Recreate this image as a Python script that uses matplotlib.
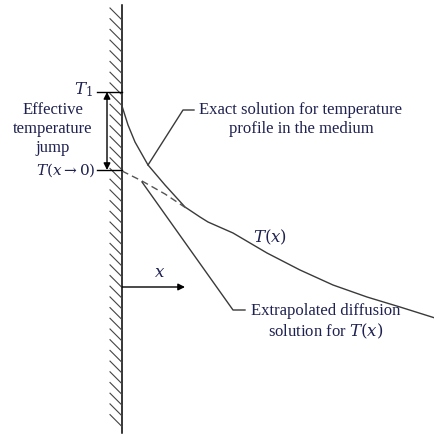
import numpy as np
import matplotlib.pyplot as plt

# exact temperature profile (pixel coords)
exact_x = [122, 128, 135, 148, 165, 185, 200, 208, 233, 267, 300, 333, 367, 400, 435]
exact_y = [106, 125, 142, 165, 185, 207, 217, 222, 233, 253, 270, 285, 297, 307, 318]

# extrapolated diffusion solution (dashed)
extrap_x = [122, 142, 165, 186]
extrap_y = [171, 181, 194, 208]

wall_x = 122
wall_top, wall_bottom = 5, 433
T1_y = 92
T0_y = 170

ink = '#1f2250'
line_c = '#3a3a3a'
serif = ['Liberation Serif', 'DejaVu Serif']

fig = plt.figure(figsize=(4.35, 4.36), dpi=100)
ax = fig.add_axes([0, 0, 1, 1])
ax.set_xlim(0, 435)
ax.set_ylim(436, 0)
ax.axis('off')

# wall + hatching
ax.plot([wall_x, wall_x], [wall_top, wall_bottom], color='black', lw=1.1)
for y0 in np.arange(8, 422, 10.7):
    ax.plot([wall_x - 12, wall_x], [y0, y0 + 12], color='#444444', lw=0.8)

# curves
ax.plot(exact_x, exact_y, color=line_c, lw=1.0)
ax.plot(extrap_x, extrap_y, color='#555555', lw=1.0, ls=(0, (5, 3)))

# temperature level markers
ax.plot([97, wall_x], [T1_y, T1_y], color='black', lw=1.0)
ax.plot([97, wall_x], [T0_y, T0_y], color='black', lw=1.0)
ax.annotate('', xy=(107, T1_y), xytext=(107, T0_y),
            arrowprops=dict(arrowstyle='<|-|>', color='black', lw=1.0,
                            mutation_scale=10, shrinkA=0, shrinkB=0))

fs = 12
ax.text(93, T1_y - 2, r'$T_1$', ha='right', va='center', fontsize=fs, color=ink,
        math_fontfamily='dejavuserif')
ax.text(96, T0_y, r'$T(x\rightarrow0)$', ha='right', va='center', fontsize=fs - 1,
        color=ink, math_fontfamily='dejavuserif')
ax.text(53, 129, 'Effective\ntemperature\njump', ha='center', va='center',
        fontsize=fs, color=ink, family=serif, linespacing=1.25)

# x axis arrow
ax.annotate('', xy=(185, 287), xytext=(wall_x, 287),
            arrowprops=dict(arrowstyle='-|>', color='black', lw=1.0,
                            mutation_scale=10, shrinkA=0, shrinkB=0))
ax.text(160, 272, r'$x$', ha='center', va='center', fontsize=fs, color=ink,
        math_fontfamily='dejavuserif')
ax.text(270, 237, r'$T(x)$', ha='center', va='center', fontsize=fs, color=ink,
        math_fontfamily='dejavuserif')

# leader for exact solution
ax.plot([148, 183, 194], [165, 110, 110], color=line_c, lw=1.0)
ax.text(301, 119, 'Exact solution for temperature\nprofile in the medium',
        ha='center', va='center', fontsize=fs, color=ink, family=serif,
        linespacing=1.25)

# leader for extrapolated solution
ax.plot([142, 233, 245], [182, 310, 310], color=line_c, lw=1.0)
ax.text(326, 322, 'Extrapolated diffusion\nsolution for $T(x)$',
        ha='center', va='center', fontsize=fs, color=ink, family=serif,
        linespacing=1.25, math_fontfamily='dejavuserif')

fig.savefig('out.png', dpi=100)
